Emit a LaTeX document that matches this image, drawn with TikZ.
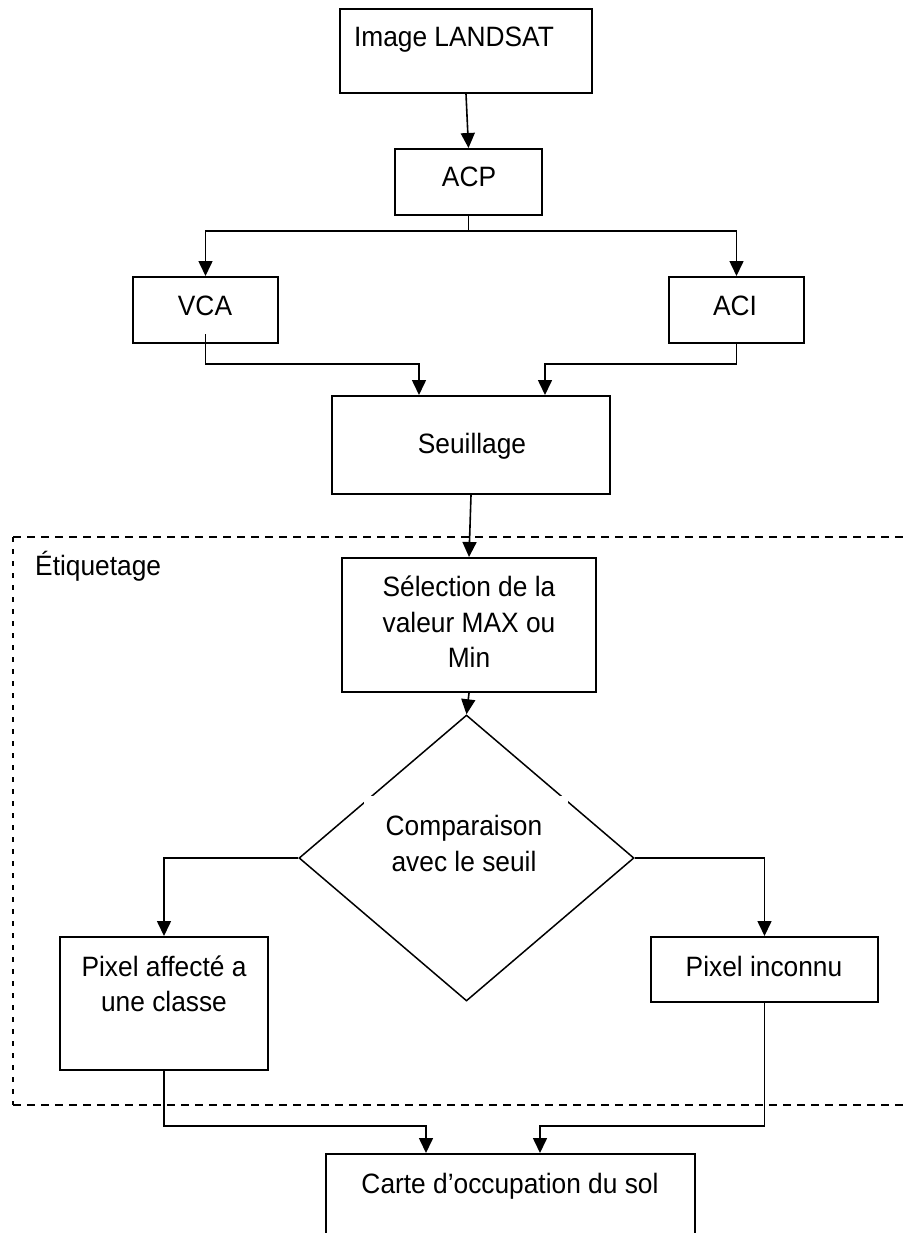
\documentclass[tikz,border=0pt]{standalone}
\usepackage{fontspec}
\setmainfont{Liberation Sans}[FakeStretch=0.94]
\usetikzlibrary{arrows.meta,shapes.geometric}
\begin{document}
\begin{tikzpicture}[x=1pt,y=-1pt,
  box/.style={draw,line width=2pt,rectangle,inner sep=0pt},
  txt/.style={anchor=base,inner sep=0pt,font=\fontsize{28}{36}\selectfont},
  link/.style={line width=1.6pt},
  arr/.style={line width=1.6pt,-{Triangle[length=15pt,width=14pt]}},
  frameh/.style={line width=2pt,dash pattern=on 8pt off 6pt},
  framev/.style={line width=1.5pt,dash pattern=on 5pt off 7pt}]
\useasboundingbox (0,0) rectangle (903,1233);

% dashed frame of the labelling stage (open on the right)
\draw[frameh] (13,537) -- (903,537);
\draw[frameh] (13,1105) -- (903,1105);
\draw[framev] (13,537) -- (13,1105);
\node[anchor=base west,inner sep=0pt,font=\fontsize{28}{36}\selectfont] (etiq) at (35,575) {Étiquetage};

% boxes
\node[box,minimum width=252pt,minimum height=84pt] (img) at (466,51) {};
\node[txt] (imgt) at (454,47) {Image LANDSAT};
\node[box,minimum width=147pt,minimum height=66pt] (acp) at (468.5,182) {};
\node[txt] (acpt) at (469,187) {ACP};
\node[box,minimum width=145pt,minimum height=66pt] (vca) at (205.5,310) {};
\node[txt] (vcat) at (205,315) {VCA};
\node[box,minimum width=135pt,minimum height=66pt] (aci) at (736.5,310) {};
\node[txt] (acit) at (735,315) {ACI};
\node[box,minimum width=278pt,minimum height=98pt] (seuil) at (471,445) {};
\node[txt] (seuilt) at (472,453) {Seuillage};
\node[box,minimum width=254pt,minimum height=134pt] (sel) at (469,625) {};
\node[txt] (sel1) at (469,596) {Sélection de la};
\node[txt] (sel2) at (469,632) {valeur MAX ou};
\node[txt] (sel3) at (469,667) {Min};

% decision
\node[diamond,draw,line width=1.5pt,inner sep=0pt,minimum width=335pt,minimum height=286pt] (cmp) at (466.5,858) {};
\fill[white] (364,796) rectangle (568,880);
\node[txt] (cmp1) at (464,835) {Comparaison};
\node[txt] (cmp2) at (464,871) {avec le seuil};

\node[box,minimum width=208pt,minimum height=133pt] (pa) at (164,1003.5) {};
\node[txt] (pa1) at (164,976) {Pixel affecté a};
\node[txt] (pa2) at (164,1011) {une classe};
\node[box,minimum width=227pt,minimum height=65pt] (pin) at (764.5,969.5) {};
\node[txt] (pint) at (764,976) {Pixel inconnu};
\node[box,minimum width=369pt,minimum height=120pt] (carte) at (510.5,1214) {};
\node[txt] (cartet) at (510,1193) {Carte d’occupation du sol};

% connectors
\draw[arr] (img.south) -- (acp.north);
\draw[link] (acp.south) -- ++(0,15) coordinate (split);
\draw[arr] (split) -| (vca.north);
\draw[arr] (split) -| (aci.north);
\draw[arr] ([yshift=10pt]vca.south) -- ++(0,30) -| ([xshift=-52pt]seuil.north);
\draw[arr] (aci.south) -- ++(0,20) -| ([xshift=74pt]seuil.north);
\draw[arr] (seuil.south) -- (sel.north);
\draw[arr] (sel.south) -- (cmp.north);
\draw[arr] (cmp.west) -| (pa.north);
\draw[arr] (cmp.east) -| (pin.north);
\draw[arr] (pa.south) -- ++(0,55) -| ([xshift=-84.5pt]carte.north);
\draw[arr] (pin.south) -- ++(0,123) -| ([xshift=29.5pt]carte.north);
\end{tikzpicture}
\end{document}
